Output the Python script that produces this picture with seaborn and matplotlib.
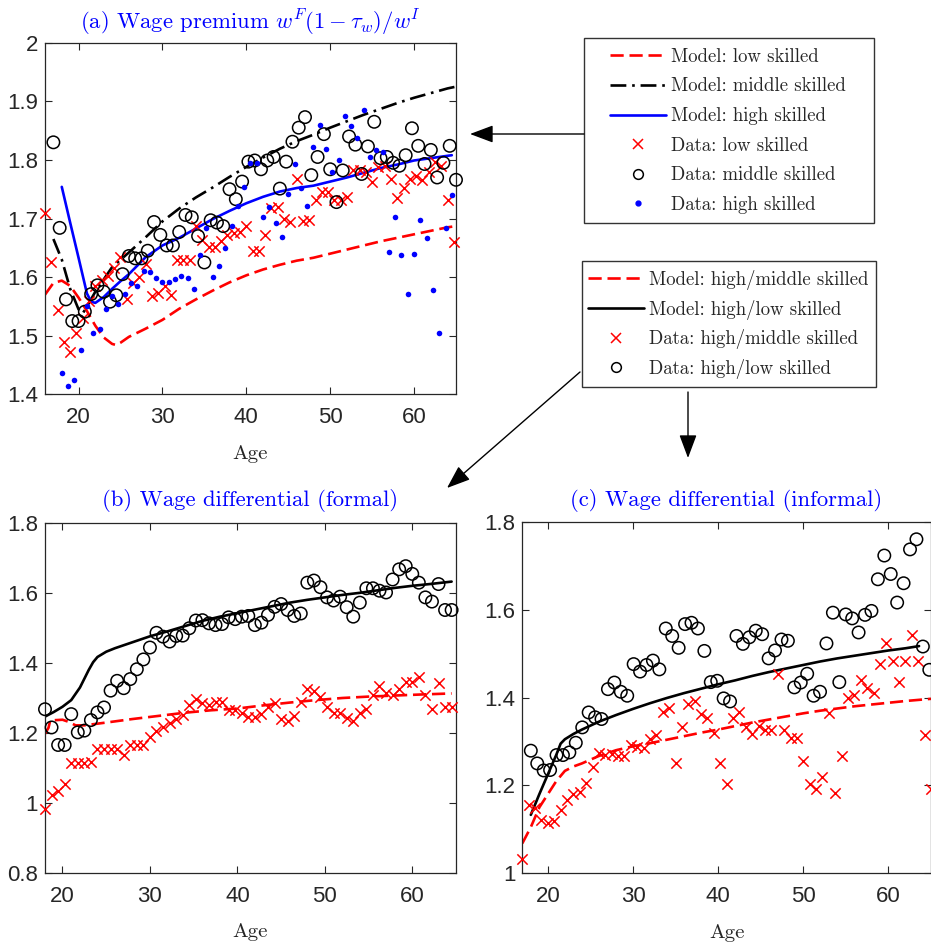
import numpy as np
import matplotlib
matplotlib.use("Agg")
import matplotlib.pyplot as plt
import seaborn as sns
from matplotlib.lines import Line2D
from matplotlib.patches import Rectangle, FancyArrowPatch
from matplotlib.ticker import FuncFormatter

# ------------------------------------------------------------
# Panel (a): wage premium by skill group
# ------------------------------------------------------------
age_a_low = np.linspace(16, 64.75, 66)
data_a_low = [1.71, 1.626, 1.544, 1.49, 1.473, 1.504, 1.53, 1.56, 1.585, 1.595,
              1.602, 1.615, 1.634, 1.562, 1.59, 1.60, 1.623, 1.567, 1.573, 1.585,
              1.569, 1.629, 1.629, 1.63, 1.688, 1.663, 1.652, 1.652, 1.662, 1.671,
              1.676, 1.677, 1.688, 1.645, 1.645, 1.672, 1.718, 1.72, 1.70, 1.694,
              1.768, 1.696, 1.697, 1.732, 1.746, 1.746, 1.732, 1.732, 1.737, 1.782,
              1.782, 1.78, 1.763, 1.788, 1.789, 1.767, 1.735, 1.752, 1.767, 1.772,
              1.766, 1.78, 1.797, 1.79, 1.732, 1.66]

age_a_mid = np.linspace(17, 65, 65)
data_a_mid = [1.83, 1.684, 1.562, 1.525, 1.525, 1.541, 1.571, 1.586, 1.575, 1.558,
              1.569, 1.605, 1.636, 1.632, 1.632, 1.645, 1.694, 1.672, 1.654, 1.654,
              1.677, 1.706, 1.702, 1.67, 1.625, 1.697, 1.693, 1.687, 1.75, 1.733,
              1.763, 1.797, 1.799, 1.784, 1.799, 1.805, 1.751, 1.797, 1.831, 1.855,
              1.873, 1.774, 1.805, 1.844, 1.784, 1.728, 1.782, 1.84, 1.826, 1.776,
              1.823, 1.865, 1.803, 1.805, 1.795, 1.79, 1.808, 1.854, 1.824, 1.793,
              1.817, 1.77, 1.795, 1.824, 1.766]

age_a_high = np.linspace(18, 64.5, 63)
data_a_high = [1.437, 1.414, 1.424, 1.476, 1.55, 1.505, 1.512, 1.546, 1.567, 1.554,
               1.571, 1.59, 1.585, 1.611, 1.609, 1.598, 1.592, 1.592, 1.597, 1.602,
               1.599, 1.58, 1.638, 1.683, 1.601, 1.619, 1.65, 1.687, 1.722, 1.753,
               1.794, 1.795, 1.703, 1.72, 1.692, 1.669, 1.741, 1.793, 1.752, 1.722,
               1.822, 1.859, 1.819, 1.779, 1.8, 1.875, 1.858, 1.838, 1.885, 1.805,
               1.817, 1.813, 1.643, 1.703, 1.638, 1.572, 1.639, 1.697, 1.667, 1.578,
               1.505, 1.683, 1.74]

model_a_low_age = [16, 17, 18, 19, 20, 21, 22, 23, 24, 24.5, 25, 26, 28, 30, 32, 34, 36,
                   38, 40, 42, 44, 46, 48, 50, 52, 54, 56, 58, 60, 62, 64, 65]
model_a_low = [1.57, 1.59, 1.594, 1.585, 1.565, 1.542, 1.517, 1.497, 1.486, 1.484, 1.488,
               1.498, 1.512, 1.527, 1.546, 1.562, 1.577, 1.591, 1.603, 1.613, 1.621, 1.628,
               1.633, 1.64, 1.647, 1.654, 1.661, 1.667, 1.673, 1.679, 1.685, 1.687]

model_a_mid_age = [17, 18, 19, 20, 20.5, 21, 22, 24, 26, 28, 30, 32, 34, 36, 38, 40, 42,
                   44, 46, 48, 50, 52, 54, 56, 58, 60, 62, 64, 65]
model_a_mid = [1.665, 1.63, 1.58, 1.545, 1.538, 1.55, 1.575, 1.617, 1.642, 1.668, 1.695,
               1.717, 1.736, 1.753, 1.771, 1.788, 1.804, 1.819, 1.832, 1.843, 1.855, 1.866,
               1.877, 1.887, 1.897, 1.906, 1.914, 1.922, 1.925]

model_a_high_age = [18, 19, 20, 21, 21.5, 22, 23, 24, 25, 26, 28, 30, 32, 34, 36, 38, 40,
                    42, 44, 46, 48, 50, 52, 54, 56, 58, 60, 62, 64.5]
model_a_high = [1.754, 1.693, 1.633, 1.572, 1.558, 1.556, 1.566, 1.58, 1.593, 1.605, 1.634,
                1.654, 1.667, 1.683, 1.699, 1.713, 1.726, 1.737, 1.746, 1.752, 1.756, 1.763,
                1.77, 1.778, 1.786, 1.792, 1.799, 1.803, 1.808]

# ------------------------------------------------------------
# Panel (b): wage differential, formal sector
# ------------------------------------------------------------
age_b = np.linspace(18, 64.5, 63)
data_b_hl = [1.268, 1.216, 1.166, 1.166, 1.254, 1.202, 1.207, 1.237, 1.259, 1.273,
             1.321, 1.349, 1.328, 1.354, 1.382, 1.41, 1.444, 1.486, 1.475, 1.461,
             1.477, 1.478, 1.499, 1.521, 1.522, 1.513, 1.508, 1.511, 1.53, 1.525,
             1.532, 1.534, 1.508, 1.515, 1.537, 1.56, 1.568, 1.551, 1.534, 1.541,
             1.629, 1.635, 1.616, 1.587, 1.578, 1.589, 1.559, 1.532, 1.572, 1.613,
             1.613, 1.606, 1.601, 1.638, 1.667, 1.676, 1.654, 1.629, 1.587, 1.575,
             1.625, 1.551, 1.551]
data_b_hm = [0.982, 1.023, 1.036, 1.055, 1.114, 1.114, 1.114, 1.118, 1.154, 1.154,
             1.154, 1.154, 1.137, 1.166, 1.166, 1.166, 1.188, 1.207, 1.218, 1.23,
             1.239, 1.252, 1.28, 1.296, 1.287, 1.28, 1.289, 1.289, 1.266, 1.266,
             1.256, 1.245, 1.245, 1.254, 1.275, 1.285, 1.239, 1.235, 1.249, 1.289,
             1.325, 1.321, 1.302, 1.275, 1.256, 1.256, 1.242, 1.233, 1.258, 1.268,
             1.309, 1.334, 1.313, 1.309, 1.325, 1.347, 1.347, 1.361, 1.309, 1.268,
             1.344, 1.273, 1.275]

model_b_hl_age = [18, 19, 20, 21, 22, 22.5, 23, 23.5, 24, 25, 26, 28, 30, 32, 34, 36, 38,
                  40, 42, 44, 46, 48, 50, 52, 54, 56, 58, 60, 62, 64.5]
model_b_hl = [1.247, 1.26, 1.275, 1.294, 1.33, 1.355, 1.38, 1.402, 1.417, 1.432, 1.442,
              1.459, 1.476, 1.49, 1.505, 1.52, 1.532, 1.542, 1.552, 1.562, 1.572, 1.58,
              1.587, 1.594, 1.6, 1.607, 1.614, 1.62, 1.625, 1.632]

model_b_hm_age = [18, 18.4, 18.6, 20, 20.7, 21.5, 22.5, 25, 28, 31, 34, 37, 40, 43, 46,
                  49, 52, 55, 58, 61, 64.5]
model_b_hm = [1.198, 1.215, 1.236, 1.238, 1.232, 1.222, 1.222, 1.23, 1.24, 1.249, 1.258,
              1.265, 1.27, 1.279, 1.287, 1.294, 1.3, 1.304, 1.307, 1.31, 1.313]

# ------------------------------------------------------------
# Panel (c): wage differential, informal sector
# ------------------------------------------------------------
age_c_hl = np.linspace(18, 64.8, 63)
data_c_hl = [1.279, 1.25, 1.234, 1.235, 1.269, 1.269, 1.275, 1.297, 1.332, 1.366,
             1.355, 1.351, 1.419, 1.434, 1.413, 1.404, 1.476, 1.459, 1.474, 1.484,
             1.464, 1.557, 1.54, 1.513, 1.567, 1.57, 1.557, 1.506, 1.435, 1.438,
             1.398, 1.391, 1.54, 1.522, 1.537, 1.552, 1.544, 1.489, 1.507, 1.532,
             1.529, 1.423, 1.434, 1.454, 1.404, 1.413, 1.523, 1.593, 1.435, 1.589,
             1.58, 1.548, 1.588, 1.597, 1.669, 1.723, 1.681, 1.616, 1.66, 1.737,
             1.76, 1.516, 1.463]

age_c_hm = np.linspace(17, 65, 65)
data_c_hm = [1.032, 1.155, 1.148, 1.121, 1.114, 1.12, 1.144, 1.167, 1.181, 1.184,
             1.205, 1.243, 1.273, 1.269, 1.271, 1.267, 1.266, 1.292, 1.288, 1.285,
             1.305, 1.315, 1.368, 1.376, 1.25, 1.334, 1.385, 1.393, 1.362, 1.353,
             1.32, 1.252, 1.203, 1.353, 1.366, 1.334, 1.317, 1.335, 1.325, 1.325,
             1.454, 1.326, 1.307, 1.307, 1.256, 1.203, 1.191, 1.218, 1.364, 1.182,
             1.267, 1.398, 1.406, 1.44, 1.421, 1.411, 1.476, 1.525, 1.482, 1.436,
             1.484, 1.542, 1.482, 1.315, 1.191]

model_c_hl_age = [18, 19, 20, 21, 21.5, 22, 23, 24, 26, 28, 30, 32, 34, 36, 38, 40, 42,
                  44, 46, 48, 50, 52, 54, 56, 58, 60, 62, 63.6]
model_c_hl = [1.133, 1.18, 1.225, 1.27, 1.295, 1.305, 1.317, 1.327, 1.345, 1.36, 1.374,
              1.387, 1.399, 1.41, 1.42, 1.43, 1.439, 1.449, 1.458, 1.466, 1.474, 1.482,
              1.489, 1.495, 1.501, 1.507, 1.512, 1.517]

model_c_hm_age = [17, 18, 19, 20, 21, 22, 23, 24, 26, 28, 30, 32, 34, 36, 38, 40, 42,
                  44, 46, 48, 50, 52, 54, 56, 58, 60, 62, 65]
model_c_hm = [1.068, 1.105, 1.15, 1.18, 1.21, 1.233, 1.243, 1.25, 1.267, 1.28, 1.289,
              1.296, 1.304, 1.312, 1.32, 1.327, 1.335, 1.343, 1.35, 1.357, 1.364, 1.37,
              1.375, 1.38, 1.384, 1.388, 1.392, 1.397]

legend_a_labels = ["Model: low skilled", "Model: middle skilled", "Model: high skilled",
                   "Data: low skilled", "Data: middle skilled", "Data: high skilled"]
legend_bc_labels = ["Model: high/middle skilled", "Model: high/low skilled",
                    "Data: high/middle skilled", "Data: high/low skilled"]

# ------------------------------------------------------------
# style
# ------------------------------------------------------------
sns.set_style("ticks")
plt.rcParams["font.family"] = ["Liberation Sans Narrow", "Liberation Sans", "DejaVu Sans"]
plt.rcParams["mathtext.fontset"] = "cm"
SERIF = "cmr10"
DASH = (0, (5, 2.2))
DASHDOT = (0, (6, 2.2, 1, 2.2))
LW = 1.9

W, H = 931, 946
fig = plt.figure(figsize=(W / 100, H / 100), dpi=100)


def px_axes(left, top, right, bottom):
    return fig.add_axes([left / W, 1 - bottom / H, (right - left) / W, (bottom - top) / H])


def style_axes(ax, xlim, ylim, yticks, label_y):
    ax.set_xlim(*xlim)
    ax.set_ylim(*ylim)
    ax.set_xticks([20, 30, 40, 50, 60])
    ax.set_yticks(yticks)
    ax.yaxis.set_major_formatter(FuncFormatter(lambda v, p: f"{v:g}"))
    ax.tick_params(axis="both", which="both", direction="in", top=True, right=True,
                   length=5, width=0.8, color="0.15", labelcolor="0.15", labelsize=16)
    ax.tick_params(axis="x", pad=9)
    ax.tick_params(axis="y", pad=5)
    for sp in ax.spines.values():
        sp.set_visible(True)
        sp.set_color("0.15")
        sp.set_linewidth(0.9)
    ax.set_ylabel("")
    ax.set_xlabel("Age", fontfamily=SERIF, fontsize=15, color="0.15", va="baseline")
    ax.xaxis.set_label_coords(0.5, label_y)


def title_px(x, y, text, size=16.3):
    fig.text(x / W, 1 - y / H, text, color="blue", fontfamily=SERIF, fontsize=size,
             ha="center", va="baseline")


def line(ax, x, y, color, ls):
    sns.lineplot(x=x, y=y, ax=ax, color=color, linewidth=LW, linestyle=ls,
                 errorbar=None, sort=False, zorder=2)


def crosses(ax, x, y):
    sns.scatterplot(x=x, y=y, ax=ax, marker="x", color="red", s=55, linewidth=1.1,
                    clip_on=False, zorder=3)


def circles(ax, x, y):
    sns.scatterplot(x=x, y=y, ax=ax, marker="o", s=80, facecolor="none",
                    edgecolor="black", linewidth=1.1, clip_on=False, zorder=3)


def dots(ax, x, y):
    sns.scatterplot(x=x, y=y, ax=ax, marker="o", s=16, color="blue", edgecolor="blue",
                    linewidth=0, clip_on=False, zorder=3)


# ---------------- panel (a) ----------------
ax_a = px_axes(45, 42.7, 456, 394.3)
line(ax_a, model_a_low_age, model_a_low, "red", DASH)
line(ax_a, model_a_mid_age, model_a_mid, "black", DASHDOT)
line(ax_a, model_a_high_age, model_a_high, "blue", "-")
crosses(ax_a, age_a_low, data_a_low)
circles(ax_a, age_a_mid, data_a_mid)
dots(ax_a, age_a_high, data_a_high)
style_axes(ax_a, (16, 65), (1.4, 2.0), np.arange(1.4, 2.01, 0.1), -0.184)
title_px(250.5, 29, r"(a) Wage premium $w^F(1-\tau_w)/w^I$")

# ---------------- panel (b) ----------------
ax_b = px_axes(45, 522.7, 456, 873.3)
line(ax_b, model_b_hm_age, model_b_hm, "red", DASH)
line(ax_b, model_b_hl_age, model_b_hl, "black", "-")
crosses(ax_b, age_b, data_b_hm)
circles(ax_b, age_b, data_b_hl)
style_axes(ax_b, (18, 65), (0.8, 1.8), [0.8, 1.0, 1.2, 1.4, 1.6, 1.8], -0.182)
title_px(250.5, 506.5, "(b) Wage differential (formal)")

# ---------------- panel (c) ----------------
ax_c = px_axes(522.3, 521.7, 931, 873.3)
line(ax_c, model_c_hm_age, model_c_hm, "red", DASH)
line(ax_c, model_c_hl_age, model_c_hl, "black", "-")
crosses(ax_c, age_c_hm, data_c_hm)
circles(ax_c, age_c_hl, data_c_hl)
style_axes(ax_c, (17, 65), (1.0, 1.8), [1.0, 1.2, 1.4, 1.6, 1.8], -0.185)
title_px(726.5, 506, "(c) Wage differential (informal)")

# ---------------- legends (boxes drawn separately, MATLAB-like) ----------------
for (l, t, r, b) in [(584, 38, 874, 223), (582, 261, 876, 387)]:
    fig.add_artist(Rectangle((l / W, 1 - b / H), (r - l) / W, (b - t) / H,
                             transform=fig.transFigure, facecolor="white",
                             edgecolor="0.2", linewidth=1.0, zorder=5))

handles_a = [
    Line2D([], [], color="red", lw=LW, ls=DASH),
    Line2D([], [], color="black", lw=LW, ls=DASHDOT),
    Line2D([], [], color="blue", lw=LW),
    Line2D([], [], color="red", ls="none", marker="x", markersize=7, mew=1.1),
    Line2D([], [], color="black", ls="none", marker="o", markersize=7, mfc="none", mew=1.1),
    Line2D([], [], color="blue", ls="none", marker="o", markersize=3.5),
]
leg_a = fig.legend(handles_a, legend_a_labels, loc="upper left",
                   bbox_to_anchor=(610 / W, 1 - 48 / H), frameon=False,
                   prop={"family": SERIF, "size": 13.5}, handlelength=3.0,
                   handletextpad=0.25, labelspacing=0.62, borderpad=0, borderaxespad=0)
leg_a.set_zorder(6)

handles_bc = [
    Line2D([], [], color="red", lw=LW, ls=DASH),
    Line2D([], [], color="black", lw=LW),
    Line2D([], [], color="red", ls="none", marker="x", markersize=7, mew=1.1),
    Line2D([], [], color="black", ls="none", marker="o", markersize=7, mfc="none", mew=1.1),
]
leg_bc = fig.legend(handles_bc, legend_bc_labels, loc="upper left",
                    bbox_to_anchor=(588 / W, 1 - 270 / H), frameon=False,
                    prop={"family": SERIF, "size": 13.5}, handlelength=3.0,
                    handletextpad=0.25, labelspacing=0.51, borderpad=0, borderaxespad=0)
leg_bc.set_zorder(6)


# ---------------- arrows from the legends to the panels ----------------
def arrow(p0, p1):
    fig.add_artist(FancyArrowPatch((p0[0] / W, 1 - p0[1] / H), (p1[0] / W, 1 - p1[1] / H),
                                   transform=fig.transFigure,
                                   arrowstyle="-|>,head_length=0.8,head_width=0.3",
                                   mutation_scale=18, color="black", lw=1.0,
                                   shrinkA=0, shrinkB=0, zorder=6))


arrow((584, 134), (470, 134))
arrow((580, 372), (447, 488))
arrow((688, 392), (688, 458))

fig.savefig("out.png", dpi=100)
